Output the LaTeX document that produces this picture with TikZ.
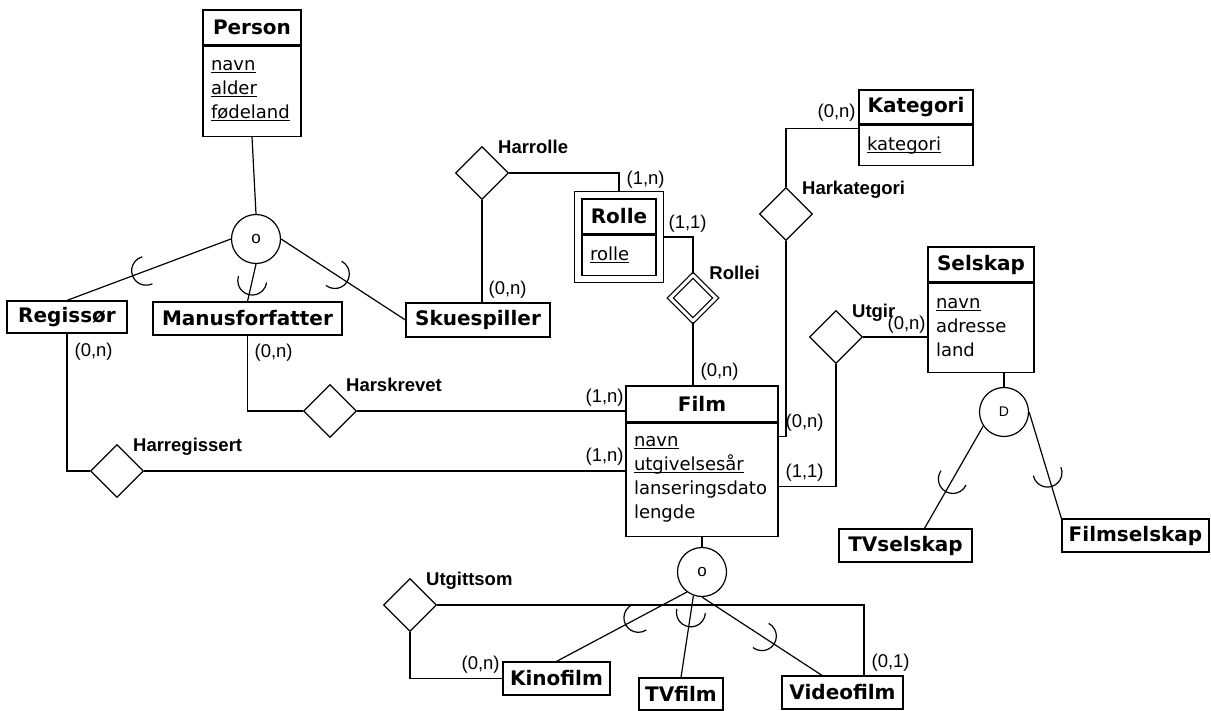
\documentclass[tikz,border=0pt]{standalone}
\usepackage{fontspec}
\newfontfamily\dejavu{DejaVu Sans}
\newfontfamily\libsans{Liberation Sans}
\usetikzlibrary{shapes.geometric,fit,calc}

% underlined key attribute
\newcommand{\keyattr}[1]{\leavevmode\setbox0=\hbox{#1}\rlap{\rule[-2.5pt]{\wd0}{1pt}}\box0}
% subset arc on an isa line
\newcommand{\subarc}[3]{%
  \draw let \p1=($(#1)!#3!(#2)$), \p2=($(#2)-(#1)$), \n1={atan2(\y2,\x2)} in
    (\p1) arc[start angle=\n1, end angle=\n1+95, radius=14.5pt]
    (\p1) arc[start angle=\n1, end angle=\n1-95, radius=14.5pt];}

\begin{document}
\begin{tikzpicture}[x=1pt, y=-1pt, line width=1.2pt,
  etitle/.style={draw, rectangle, inner sep=0pt, font=\dejavu\bfseries\fontsize{20}{24}\selectfont},
  eattr/.style={draw, rectangle, anchor=north, align=left, inner xsep=8pt, inner ysep=0pt, font=\dejavu\fontsize{18}{24}\selectfont},
  rel/.style={draw, diamond, minimum size=53pt, inner sep=0pt},
  isa/.style={draw, circle, minimum size=49pt, inner sep=0pt, font=\libsans\fontsize{17}{17}\selectfont},
  rname/.style={anchor=base west, inner sep=0pt, font=\libsans\bfseries\fontsize{18.5}{20}\selectfont},
  card/.style={anchor=west, inner sep=0pt, font=\libsans\fontsize{18.5}{20}\selectfont}]
\useasboundingbox (0,0) rectangle (1211,711);

% Entiteter
\node[etitle, minimum width=98pt, minimum height=35pt] (person) at (252,27.5) {Person};
\node[eattr, text width=82pt, minimum height=90pt] (person-a) at (person.south) {\keyattr{navn}\\\keyattr{alder}\\\keyattr{fødeland}};
\node[etitle, minimum width=114pt, minimum height=34pt] (kategori) at (916,107) {Kategori};
\node[eattr, text width=98pt, minimum height=40pt] (kategori-a) at (kategori.south) {\keyattr{kategori}};
\node[etitle, minimum width=74pt, minimum height=35pt] (rolle) at (619,216.5) {Rolle};
\node[eattr, text width=58pt, minimum height=40pt] (rolle-a) at (rolle.south) {\keyattr{rolle}};
\node[fit=(rolle)(rolle-a), draw, inner sep=7pt] (rolle-o) {};
\node[etitle, minimum width=106pt, minimum height=35pt] (selskap) at (981,264.5) {Selskap};
\node[eattr, text width=90pt, minimum height=89pt] (selskap-a) at (selskap.south) {\keyattr{navn}\\adresse\\land};
\node[etitle, minimum width=152pt, minimum height=36pt] (film) at (702,404) {Film};
\node[eattr, text width=136pt, minimum height=113pt] (film-a) at (film.south) {\keyattr{navn}\\\keyattr{utgivelsesår}\\lanseringsdato\\lengde};

\node[etitle, minimum width=120pt, minimum height=32pt] (regissor) at (67,317) {Regissør};
\node[etitle, minimum width=189pt, minimum height=33pt] (manus) at (247.5,318.5) {Manusforfatter};
\node[etitle, minimum width=144pt, minimum height=34pt] (skuesp) at (478,320) {Skuespiller};
\node[etitle, minimum width=133pt, minimum height=33pt] (tvsel) at (905.5,545.5) {TVselskap};
\node[etitle, minimum width=147pt, minimum height=33pt] (filmsel) at (1135.5,535.5) {Filmselskap};
\node[etitle, minimum width=107pt, minimum height=33pt] (kino) at (556.5,678.5) {Kinofilm};
\node[etitle, minimum width=84pt, minimum height=32pt] (tvfilm) at (681,694) {TVfilm};
\node[etitle, minimum width=121pt, minimum height=33pt] (video) at (842.5,692.5) {Videofilm};

% Relasjoner
\node[rel] (harrolle) at (482,173) {};
\node[rel] (harkat) at (786,214) {};
\node[rel, minimum size=46pt, double, double distance=3pt] (rollei) at (693,298) {};
\node[rel] (utgir) at (836,337) {};
\node[rel] (harskr) at (330,411) {};
\node[rel] (harreg) at (117,471) {};
\node[rel] (utgs) at (410,605) {};

\node[rname] (harrolle-l) at ([shift={(2,-6)}]harrolle.north east) {Harrolle};
\node[rname] (harkat-l) at ([shift={(2,-6)}]harkat.north east) {Harkategori};
\node[rname] (rollei-l) at ([shift={(4,-7)}]rollei.north east) {Rollei};
\node[rname] (utgir-l) at ([shift={(2,-6)}]utgir.north east) {Utgir};
\node[rname] (harskr-l) at ([shift={(2,-6)}]harskr.north east) {Harskrevet};
\node[rname] (harreg-l) at ([shift={(2,-6)}]harreg.north east) {Harregissert};
\node[rname] (utgs-l) at ([shift={(2,-6)}]utgs.north east) {Utgittsom};

% Spesialisering
\node[isa] (pcirc) at (256,239) {o};
\node[isa] (fcirc) at (702,572) {o};
\node[isa, font=\libsans\fontsize{14}{14}\selectfont] (scirc) at (1004,412) {D};
\coordinate (tvsel-in) at ([xshift=19pt]tvsel.north);
\coordinate (video-in) at ([xshift=-20.5pt]video.north);
\coordinate (video-top) at ([xshift=21.5pt]video.north);

\draw (person-a.south) -- (pcirc.north);
\draw (pcirc.west) -- (regissor.north);
\draw (pcirc.south) -- (manus.north);
\draw (pcirc.east) -- (skuesp.west);
\subarc{pcirc.west}{regissor.north}{0.6}
\subarc{pcirc.south}{manus.north}{0.82}
\subarc{pcirc.east}{skuesp.west}{0.53}

\draw (film-a.south) -- (fcirc.north);
\draw (fcirc.233) -- (kino.north);
\draw (fcirc.250) -- (tvfilm.north);
\draw (fcirc.270) -- (video-in);
\subarc{fcirc.233}{kino.north}{0.47}
\subarc{fcirc.250}{tvfilm.north}{0.38}
\subarc{fcirc.270}{video-in}{0.6}

\draw (scirc.north) -- (scirc.north |- selskap-a.south);
\draw (scirc.214) -- (tvsel-in);
\draw (scirc.east) -- (filmsel.north west);
\subarc{scirc.214}{tvsel-in}{0.64}
\subarc{scirc.east}{filmsel.north west}{0.7}

% Forbindelser
\draw (harrolle.east) -| (rolle-o.north);
\draw (harrolle.south) -- (harrolle.south |- skuesp.north);
\draw (rolle-o.east) -| (rollei.north);
\draw (rollei.south) -- (rollei.south |- film.north);
\draw (harkat.north) |- ([yshift=-4pt]kategori.south west);
\draw (harkat.south) |- ([yshift=-14pt]film.south east);
\draw (utgir.east) -- (utgir.east -| selskap-a.west);
\draw (utgir.south) |- ([yshift=-64pt]film.south east);
\draw (manus.south) |- (harskr.west);
\draw (harskr.east) -- (harskr.east -| film.west);
\draw (regissor.south) |- (harreg.west);
\draw (harreg.east) -- (harreg.east -| film-a.west);
\draw (utgs.south) |- (kino.west);
\draw (utgs.east) -| (video-top);

% Kardinaliteter
\node[card] (c-rolle1) at (626,180) {(1,n)};
\node[card] (c-skue) at (488,290) {(0,n)};
\node[card] (c-rolle2) at (668,224) {(1,1)};
\node[card] (c-film1) at (700,372) {(0,n)};
\node[card] (c-kat) at (817,113) {(0,n)};
\node[card] (c-film2) at (785,423) {(0,n)};
\node[card] (c-selsk) at (887,325) {(0,n)};
\node[card] (c-film3) at (785,473) {(1,1)};
\node[card] (c-manus) at (254,353) {(0,n)};
\node[card] (c-film4) at (585,398) {(1,n)};
\node[card] (c-reg) at (74,352) {(0,n)};
\node[card] (c-film5) at (585,457) {(1,n)};
\node[card] (c-kino) at (461,665) {(0,n)};
\node[card] (c-video) at (871,663) {(0,1)};
\end{tikzpicture}
\end{document}
